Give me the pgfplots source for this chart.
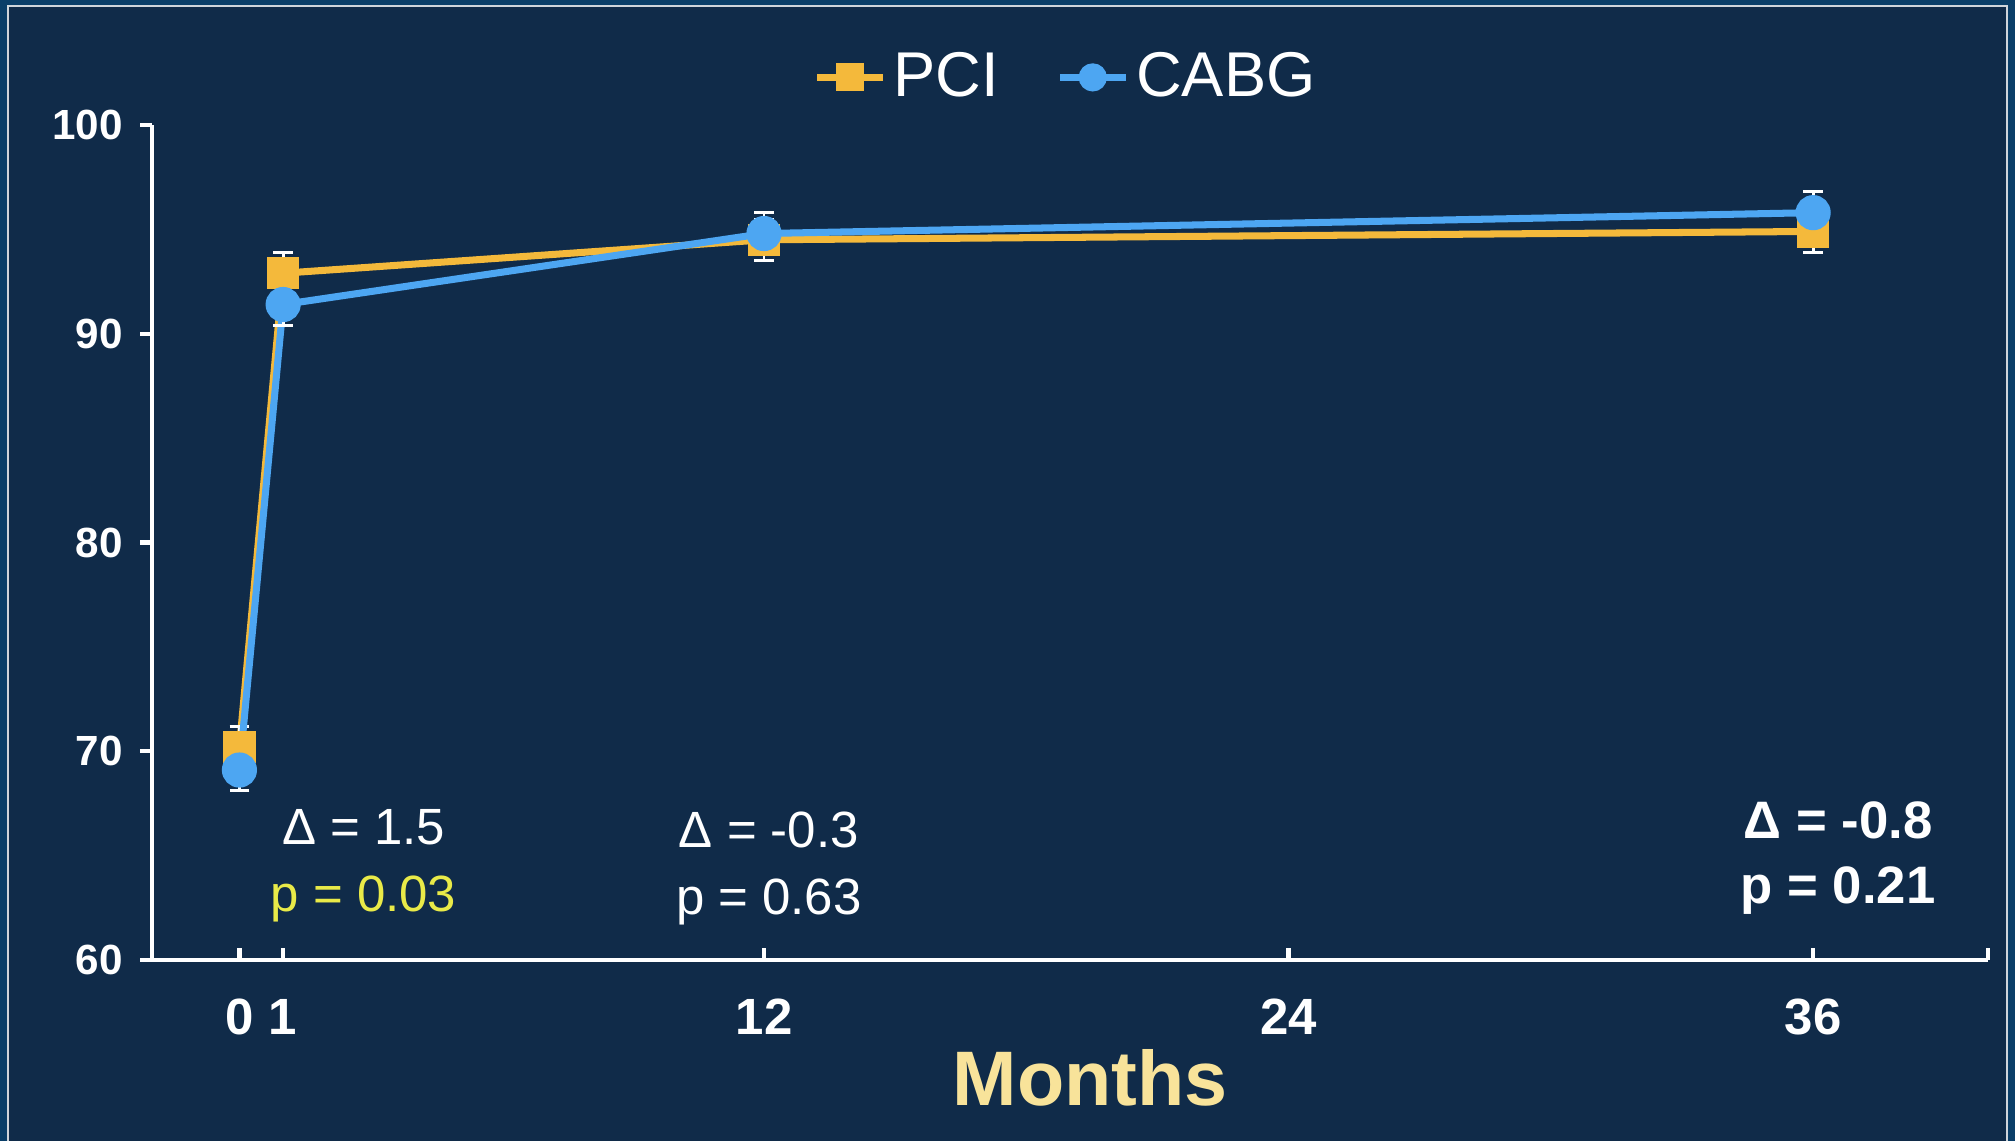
\documentclass[border=0pt]{standalone}
\usepackage{pgfplots}
\pgfplotsset{compat=1.18}
\usepackage{fontspec}
\setmainfont{Liberation Sans}

\definecolor{bgnavy}{HTML}{102B49}
\definecolor{frameblue}{HTML}{0A3E68}
\definecolor{pcicol}{HTML}{F4B93B}
\definecolor{cabgcol}{HTML}{4DA6F2}
\definecolor{pyellow}{HTML}{E9EA48}
\definecolor{monthscol}{HTML}{F8E39A}

\pgfplotstableread{
m  v     e
0  70.2  1.0
1  92.9  1.0
12 94.5  1.0
36 94.9  1.0
}\pcidata
\pgfplotstableread{
m  v     e
0  69.1  1.0
1  91.4  1.0
12 94.8  1.0
36 95.8  1.0
}\cabgdata

\begin{document}
\begin{tikzpicture}
\path[use as bounding box] (0,0) rectangle (20.15,11.41);
\fill[frameblue] (0,0) rectangle (20.15,11.41);
\fill[bgnavy] (0.08,0) rectangle (20.07,11.35);
\draw[white!80!bgnavy, line width=0.4pt] (0.08,0) -- (0.08,11.35) -- (20.07,11.35) -- (20.07,0);

\begin{axis}[
  at={(1.52cm,1.81cm)}, anchor=south west,
  width=18.36cm, height=8.35cm, scale only axis,
  xmin=-2, xmax=40, ymin=60, ymax=100,
  clip=false,
  axis lines*=left,
  axis line style={white, line width=1.2pt, -},
  xtick={0,1,12,24,36},
  extra x ticks={40}, extra x tick labels={},
  ytick={60,70,80,90,100},
  major tick length=0.12cm,
  tick style={white, line width=1.2pt},
  xtick align=inside, ytick align=outside,
  /pgf/number format/assume math mode=true,
  xticklabel style={text=white, yshift=-0.27cm, font=\fontsize{14.5}{16}\selectfont\bfseries},
  yticklabel style={text=white, xshift=-0.05cm, font=\fontsize{12}{14}\selectfont\bfseries},
  xlabel={Months},
  xlabel style={at={(axis description cs:0.511,-0.141)}, anchor=center,
                text=monthscol, font=\fontsize{22}{24}\selectfont\bfseries},
  legend style={at={(0.499,1.057)}, anchor=center, draw=none, fill=none,
                text=white, font=\fontsize{18}{20}\selectfont, legend columns=2,
                /tikz/every even column/.append style={column sep=0.5cm}},
  legend image code/.code={\draw[mark repeat=2, mark phase=2, #1, mark size=3pt]
      plot coordinates {(0cm,0cm) (0.33cm,0cm) (0.66cm,0cm)};},
]
\addplot[pcicol, line width=2pt, mark=square*, mark size=3.6pt,
  error bars/.cd, y dir=both, y explicit,
  error bar style={white, line width=0.8pt},
  error mark options={rotate=90, white, mark size=2.8pt, line width=0.8pt}]
  table[x=m, y=v, y error=e] {\pcidata};
\addlegendentry{PCI}
\addplot[cabgcol, line width=2pt, mark=*, mark size=4pt,
  error bars/.cd, y dir=both, y explicit,
  error bar style={white, line width=0.8pt},
  error mark options={rotate=90, white, mark size=2.8pt, line width=0.8pt}]
  table[x=m, y=v, y error=e] {\cabgdata};
\addlegendentry{CABG}

\node[text=white, align=center, font=\fontsize{14.5}{19}\selectfont]
  at (axis cs:2.84,64.5) {Δ = 1.5\\\textcolor{pyellow}{p = 0.03}};
\node[text=white, align=center, font=\fontsize{14.5}{19}\selectfont]
  at (axis cs:12.11,64.4) {Δ = -0.3\\p = 0.63};
\node[text=white, align=center, font=\fontsize{15}{18.5}\selectfont\bfseries]
  at (axis cs:36.57,64.9) {Δ = -0.8\\p = 0.21};
\end{axis}
\end{tikzpicture}
\end{document}
